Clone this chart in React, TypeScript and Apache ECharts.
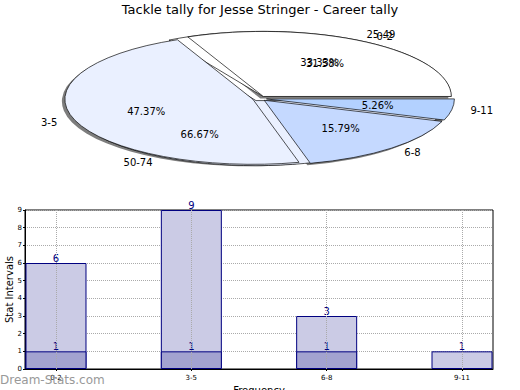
import React, { useEffect, useRef } from "react";
import * as echarts from "echarts";

const FONT = "DejaVu Sans";

// Pie 1 (career tally)
const pieCategories = ["0-2", "3-5", "6-8", "9-11"];
const pieValues = [6, 9, 3, 1];
const pieColors = ["#ffffff", "#eaf0ff", "#c5d9ff", "#b3d1ff"];

// Pie 2 (overlaid)
const pie2Categories = ["25-49", "50-74"];
const pie2Values = [1, 2];
const pie2Colors = ["#ffffff", "#eaf0ff"];

// Bar chart
const barCategories = ["0-2", "3-5", "6-8", "9-11"];
const careerCounts = [6, 9, 3, 1];
const secondCounts: (number | null)[] = [1, 1, 1, null];
const yTicks = [0, 1, 2, 3, 4, 5, 6, 7, 8, 9];

const CX = 259.5;
const CY = 98.5;
const RX = 188;
const RY = 65;
const EXPLODE = 7;

function sliceGeom(values: number[], i: number) {
  const total = values.reduce((a, b) => a + b, 0);
  let before = 0;
  for (let k = 0; k < i; k++) before += values[k];
  const t1 = (before / total) * 2 * Math.PI;
  const t2 = ((before + values[i]) / total) * 2 * Math.PI;
  const mid = (t1 + t2) / 2;
  const ox = EXPLODE * Math.cos(mid);
  const oy = -EXPLODE * Math.sin(mid) * (RY / RX);
  return { t1, t2, mid, ox, oy, pct: (values[i] / total) * 100 };
}

function sectorRenderer(values: number[], colors: string[], dx: number, dy: number, shadow: boolean) {
  return (params: any) => {
    const i = params.dataIndex;
    const g = sliceGeom(values, i);
    return {
      type: "group",
      x: CX + g.ox + dx,
      y: CY + g.oy + dy,
      scaleY: RY / RX,
      children: [
        {
          type: "sector",
          shape: { cx: 0, cy: 0, r0: 0, r: RX, startAngle: -g.t2, endAngle: -g.t1, clockwise: true },
          style: shadow
            ? { fill: "rgba(70,70,70,0.7)", stroke: "none" }
            : { fill: colors[i], stroke: "#000", lineWidth: 1, strokeNoScale: true },
        },
      ],
    };
  };
}

function labelRenderer(values: number[], names: string[]) {
  return (params: any) => {
    const i = params.dataIndex;
    const g = sliceGeom(values, i);
    const c = Math.cos(g.mid);
    const s = Math.sin(g.mid);
    const bx = CX + g.ox;
    const by = CY + g.oy;
    return {
      type: "group",
      children: [
        {
          type: "text",
          x: bx + 0.6 * RX * c,
          y: by - 0.6 * RY * s,
          style: {
            text: g.pct.toFixed(2) + "%",
            fill: "#000",
            fontSize: 10,
            fontFamily: FONT,
            align: "center",
            verticalAlign: "middle",
          },
        },
        {
          type: "text",
          x: bx + 1.1 * RX * c,
          y: by - 1.1 * RY * s,
          style: {
            text: names[i],
            fill: "#000",
            fontSize: 10,
            fontFamily: FONT,
            align: c >= 0 ? "left" : "right",
            verticalAlign: "middle",
          },
        },
      ],
    };
  };
}

export default function App() {
  const ref = useRef<HTMLDivElement>(null);
  useEffect(() => {
    document.body.style.margin = "0";
    const chart = echarts.init(ref.current!, null, { renderer: "svg" });
    const option: any = {
      animation: false,
      backgroundColor: "#fff",
      textStyle: { fontFamily: FONT },
      title: {
        text: "Tackle tally for Jesse Stringer - Career tally",
        left: "center",
        top: 3,
        padding: 0,
        textStyle: { fontSize: 13, fontWeight: "normal", fontFamily: FONT, color: "#000" },
      },
      graphic: [
        {
          type: "text",
          left: 0,
          top: 374,
          z: 100,
          style: { text: "Dream-Stats.com", fill: "#999", fontSize: 12, fontFamily: FONT },
        },
      ],
      grid: {
        left: 25,
        right: 27,
        top: 210,
        bottom: 21,
        containLabel: false,
        outerBoundsMode: "none",
        show: true,
        borderColor: "#000",
        borderWidth: 1,
        backgroundColor: "transparent",
      },
      xAxis: {
        type: "value",
        min: -0.229,
        max: 3.229,
        name: "Frequency",
        nameLocation: "middle",
        nameGap: 16,
        nameMoveOverlap: false,
        nameTextStyle: { fontSize: 10, color: "#000", fontFamily: FONT },
        axisLine: { show: true, onZero: false, lineStyle: { color: "#000" } },
        splitLine: { show: false },
        axisTick: { show: true, customValues: [0, 1, 2, 3], length: 2, lineStyle: { color: "#000" } },
        axisLabel: {
          customValues: [0, 1, 2, 3],
          formatter: (v: number) => barCategories[Math.round(v)] ?? "",
          fontSize: 7,
          color: "#000",
          margin: 5,
          fontFamily: FONT,
        },
      },
      yAxis: {
        type: "value",
        min: 0,
        max: 9,
        interval: 1,
        name: "Stat Intervals",
        nameLocation: "middle",
        nameGap: 11,
        nameMoveOverlap: false,
        nameTextStyle: { fontSize: 10, color: "#000", fontFamily: FONT },
        axisLine: { show: true, onZero: false, lineStyle: { color: "#000" } },
        axisTick: { show: true, length: 2, lineStyle: { color: "#000" } },
        axisLabel: {
          fontSize: 7,
          color: "#000",
          margin: 3,
          fontFamily: FONT,
          formatter: (v: number) => (yTicks.includes(v) ? String(v) : ""),
        },
        splitLine: { show: true, lineStyle: { type: "dotted", color: "#aaa", width: 1 } },
      },
      series: [
        {
          type: "custom",
          coordinateSystem: "none",
          z: 1,
          silent: true,
          data: pieValues,
          renderItem: sectorRenderer(pieValues, pieColors, -3, 2, true),
        },
        {
          type: "custom",
          coordinateSystem: "none",
          z: 2,
          silent: true,
          data: pie2Values,
          renderItem: sectorRenderer(pie2Values, pie2Colors, 0, 0, false),
        },
        {
          type: "custom",
          coordinateSystem: "none",
          z: 3,
          silent: true,
          data: pieValues,
          renderItem: sectorRenderer(pieValues, pieColors, 0, 0, false),
        },
        {
          type: "custom",
          coordinateSystem: "none",
          z: 4,
          silent: true,
          data: pie2Values,
          renderItem: labelRenderer(pie2Values, pie2Categories),
        },
        {
          type: "custom",
          coordinateSystem: "none",
          z: 4,
          silent: true,
          data: pieValues,
          renderItem: labelRenderer(pieValues, pieCategories),
        },
        {
          type: "bar",
          barWidth: 61,
          barGap: "-100%",
          data: careerCounts.map((v, i) => [i, v]),
          itemStyle: { color: "#cbcbe5", borderColor: "#000080", borderWidth: 1 },
          label: { show: true, position: "top", distance: 0, color: "#000080", fontSize: 10, fontFamily: FONT,
            formatter: (p: any) => String(p.value[1]) },
        },
        {
          type: "bar",
          barWidth: 61,
          barGap: "-100%",
          data: secondCounts
            .map((v, i) => (v == null ? null : [i, v]))
            .filter((d) => d !== null),
          itemStyle: { color: "#a3a3d0", borderColor: "#000080", borderWidth: 1 },
          label: { show: true, position: "top", distance: 0, color: "#000080", fontSize: 10, fontFamily: FONT,
            formatter: (p: any) => String(p.value[1]) },
          markLine: {
            silent: true,
            symbol: "none",
            label: { show: false },
            lineStyle: { type: "dotted", color: "#aaa", width: 1 },
            data: barCategories.map((_, i) => [
              { coord: [i, 0] },
              { coord: [i, 9] },
            ]),
          },
        },
      ],
    };
    chart.setOption(option);
    return () => chart.dispose();
  }, []);
  return <div ref={ref} style={{ width: 520, height: 390 }} />;
}
